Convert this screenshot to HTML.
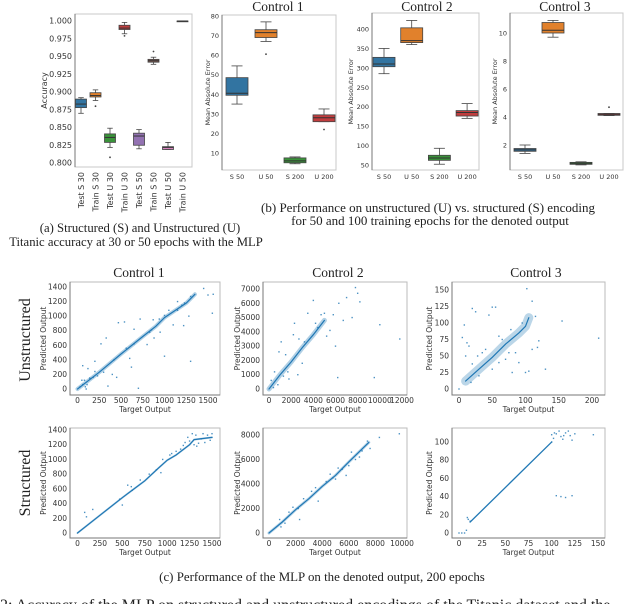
<!DOCTYPE html>
<html><head><meta charset="utf-8">
<style>
html,body{margin:0;padding:0;background:#fff;}
svg{display:block;}
.t{font-family:"DejaVu Sans","Liberation Sans",sans-serif;fill:#333;}
.s{font-family:"Liberation Serif",serif;fill:#222;}
</style></head>
<body>
<svg id="fig" width="640" height="604" viewBox="0 0 640 604" xmlns="http://www.w3.org/2000/svg">
<text class="s" x="140" y="232" font-size="12.7" text-anchor="middle">(a) Structured (S) and Unstructured (U)</text>
<text class="s" x="136" y="246" font-size="12.7" text-anchor="middle">Titanic accuracy at 30 or 50 epochs with the MLP</text>
<text class="s" x="428" y="212" font-size="13" text-anchor="middle">(b) Performance on unstructured (U) vs. structured (S) encoding</text>
<text class="s" x="430" y="225" font-size="13" text-anchor="middle">for 50 and 100 training epochs for the denoted output</text>
<text class="s" x="322" y="581" font-size="12.9" text-anchor="middle">(c) Performance of the MLP on the denoted output, 200 epochs</text>
<text class="s" x="0" y="610" font-size="16">2: Accuracy of the MLP on structured and unstructured encodings of the Titanic dataset and the</text>
<text class="s" x="139" y="277" font-size="13.5" text-anchor="middle">Control 1</text>
<text class="s" x="338" y="277" font-size="13.5" text-anchor="middle">Control 2</text>
<text class="s" x="536" y="277" font-size="13.5" text-anchor="middle">Control 3</text>
<text class="s" x="278" y="11" font-size="13.5" text-anchor="middle">Control 1</text>
<text class="s" x="427" y="11" font-size="13.5" text-anchor="middle">Control 2</text>
<text class="s" x="565" y="11" font-size="13.5" text-anchor="middle">Control 3</text>
<text class="s" x="0" y="0" font-size="16" text-anchor="middle" transform="translate(30,340) rotate(-90)">Unstructured</text>
<text class="s" x="0" y="0" font-size="16" text-anchor="middle" transform="translate(30,483) rotate(-90)">Structured</text>
</svg>
<script>
// ---- Panel (a) data ----
const aCats = ["Test S 30","Train S 30","Test U 30","Train U 30","Test S 50","Train S 50","Test U 50","Train U 50"];
const aQ1 = [0.878,0.893,0.829,0.988,0.825,0.942,0.819,1.0];
const aMed = [0.883,0.895,0.836,0.990,0.838,0.944,0.822,1.0];
const aQ3 = [0.890,0.899,0.841,0.994,0.842,0.946,0.823,1.0];
const aLo = [0.870,0.888,0.822,0.982,0.820,0.939,0.819,1.0];
const aHi = [0.892,0.903,0.849,0.998,0.847,0.949,0.829,1.0];
const aOut = [[],[0.880],[0.808],[0.979],[],[0.957],[],[]];
const aTicks = [0.800,0.825,0.850,0.875,0.900,0.925,0.950,0.975,1.000];
// ---- Panel (b) data ----
const bCats = ["S 50","U 50","S 200","U 200"];
const c1Q1 = [39.5,69,5,26]; const c1Med = [40.5,71.5,6,28]; const c1Q3 = [48.5,73,7.5,29.5];
const c1Lo = [35,67,4.5,26]; const c1Hi = [54.5,77,8,32.5]; const c1Out = [[],[60.5],[],[22]];
const c1Ticks = [10,20,30,40,50,60,70,80];
const c2Q1 = [303,365,62,176]; const c2Med = [310,370,68,185]; const c2Q3 = [327,403,75,190];
const c2Lo = [285,360,52,170]; const c2Hi = [350,422,93,208]; const c2Out = [[],[],[],[]];
const c2Ticks = [50,100,150,200,250,300,350,400];
const c3Q1 = [1.55,10.0,0.62,4.12]; const c3Med = [1.65,10.2,0.7,4.2]; const c3Q3 = [1.75,10.75,0.76,4.25];
const c3Lo = [1.4,9.7,0.58,4.1]; const c3Hi = [2.0,10.9,0.8,4.25]; const c3Out = [[],[],[],[4.7]];
const c3Ticks = [2,4,6,8,10];
const boxColors = ["#3274a1","#e1812c","#3a923a","#c03d3e","#9372b2","#845b53","#d684bd","#7f7f7f"];
// ---- Scatter data ----
const uc1TrendX=[0,250,500,750,900,1000,1250,1350];
const uc1TrendY=[0,230,480,720,860,980,1180,1300];
const uc1X=[1450,1500,1560,1550,1300,1280,1220,1230,1150,1100,1000,950,870,800,720,650,600,540,470,450,400,330,270,300,700,350,200,120,60,100,50,180,1050,1150,1300,1200,850,830,650,560,420,150,30,940,880,1000,620,80,110,140,90,60,200,230];
const uc1Y=[1380,1290,1300,1040,380,1000,870,1180,1200,880,1010,780,950,610,960,820,420,920,910,160,200,700,620,230,10,40,380,280,320,0,120,160,1080,1080,1270,1150,810,780,620,560,400,140,30,960,700,450,300,120,60,150,30,60,240,180];
const uc2TrendX=[0,1000,2000,3000,4000,5000];
const uc2TrendY=[0,1000,1900,2900,3800,4800];
const uc2X=[7800,8000,8200,7000,6300,5800,5000,4700,4000,3500,2200,2300,1500,1100,900,6000,6200,9500,10000,11800,4200,6700,2600,3000,500,1800,3200,4400,5500,2700,800,1300,200,400,5200,1700,7500];
const uc2Y=[7100,6700,6100,6400,6000,5200,5300,5200,6200,5300,3800,4600,2400,3300,2600,3000,800,800,4500,3500,4600,4800,1000,1800,1200,700,3300,4300,4100,3500,300,900,600,100,3700,1200,5000];
const uc3TrendX=[10,30,50,70,90,100,105];
const uc3TrendY=[12,30,48,68,85,95,108];
const uc3X=[102,110,155,210,20,8,25,50,55,45,100,105,130,118,90,80,10,15,5,0,60,40,30,70,95,115,85,50,20,35,65,75,110,120,12,28,18,60,78];
const uc3Y=[152,133,103,77,122,97,117,124,124,112,25,27,30,63,40,25,50,65,78,0,80,60,20,45,100,110,55,30,38,55,75,55,60,73,70,50,10,40,90];
const sc1TrendX=[0,250,500,750,900,1000,1100,1250,1300,1500];
const sc1TrendY=[0,240,480,710,880,990,1060,1200,1270,1300];
const sc1X=[80,100,170,560,600,610,500,470,880,950,1050,1150,1280,1320,1380,1450,1480,1200,1250,1330,1420,1100,700,930,1230,1300,1500,1400,800,1030,1180,1350];
const sc1Y=[280,220,320,650,630,580,380,460,860,1000,1080,1140,1350,1330,1280,1330,1260,1230,1250,1180,1230,1110,720,820,1300,1200,1350,1350,800,1060,1190,1220];
const sc2TrendX=[0,1000,2000,3000,4000,5000,6000,7500];
const sc2TrendY=[0,900,1900,2800,3800,4700,5800,7400];
const sc2X=[9800,8300,7400,7600,6800,6000,5500,5800,5200,4600,4300,3700,2300,2600,1800,1200,800,900,3200,4800,6500,6200,5000,3500,1500,2200,7000];
const sc2Y=[8100,7800,7500,6900,6200,5500,5200,4700,5300,4800,4200,2600,1100,2800,2100,800,1100,500,3400,4500,6000,6600,4400,3700,1700,2000,6700];
const sc3TrendX=[12,100];
const sc3TrendY=[12,100];
const sc3X=[100,105,110,115,120,125,118,108,145,102,112,122,105,110,115,122,0,3,6,8,10,12,9,100,103,113];
const sc3Y=[108,109,106,110,107,109,112,112,108,104,103,102,41,40,39,41,0,0,0,3,15,13,17,100,110,107];

const svg=document.getElementById('fig');
const NS='http://www.w3.org/2000/svg';
function mk(tag,attrs,parent){const e=document.createElementNS(NS,tag);for(const k in attrs)e.setAttribute(k,attrs[k]);(parent||svg).appendChild(e);return e;}
function lin(d0,d1,r0,r1){return v=>r0+(v-d0)*(r1-r0)/(d1-d0);}

function boxPanel(name,fr,yS,cats,xs,w,q1,med,q3,lo,hi,outs,ticks,fmt,ylabel,ylx,rotLabels,labY,fs){
  const g=mk('g',{});
  
  
  const frame=mk('rect',{x:fr[0],y:fr[1],width:fr[2]-fr[0],height:fr[3]-fr[1],fill:'none',stroke:'#c8c8c8','stroke-width':1},g);
  
  
  mk('line',{x1:fr[0],y1:fr[1],x2:fr[0],y2:fr[3],stroke:'#777','stroke-width':1},g);
  ticks.forEach(t=>{
    const tx=mk('text',{x:fr[0]-3,y:yS(t)+2.5,'font-size':fs,'text-anchor':'end',class:'t'},g);
    tx.textContent=fmt(t);
    
    
  });
  const yl=mk('text',{x:0,y:0,'font-size':fs,'text-anchor':'middle',class:'t',transform:`translate(${ylx},${(fr[1]+fr[3])/2}) rotate(-90)`},g);
  yl.textContent=ylabel;
  
  
  cats.forEach((c,i)=>{
    const x=xs(i),col=boxColors[i];
    const wg=mk('g',{},g);
    
    
    mk('line',{x1:x,x2:x,y1:yS(hi[i]),y2:yS(q3[i]),stroke:'#444','stroke-width':0.8},wg);
    mk('line',{x1:x,x2:x,y1:yS(q1[i]),y2:yS(lo[i]),stroke:'#444','stroke-width':0.8},wg);
    mk('line',{x1:x-w/4,x2:x+w/4,y1:yS(hi[i]),y2:yS(hi[i]),stroke:'#444','stroke-width':0.8},wg);
    mk('line',{x1:x-w/4,x2:x+w/4,y1:yS(lo[i]),y2:yS(lo[i]),stroke:'#444','stroke-width':0.8},wg);
    const h=Math.max(yS(q1[i])-yS(q3[i]),0.8);
    mk('rect',{x:x-w/2,y:yS(q3[i]),width:w,height:h,fill:col,stroke:'#444','stroke-width':0.8},wg);
    mk('line',{x1:x-w/2,x2:x+w/2,y1:yS(med[i]),y2:yS(med[i]),stroke:'#333','stroke-width':1},wg);
    outs[i].forEach(o=>mk('circle',{cx:x,cy:yS(o),r:0.9,fill:'#444'},wg));
    let lab;
    if(rotLabels){lab=mk('text',{x:0,y:0,'font-size':fs,'text-anchor':'end',class:'t',transform:`translate(${x+3},${labY}) rotate(-90)`},g);}
    else{lab=mk('text',{x:x,y:labY,'font-size':fs,'text-anchor':'middle',class:'t'},g);}
    lab.textContent=c;
    
    
  });
}
boxPanel('accuracy-boxplot',[75,14,192,167],lin(0.8,1.0,163,21),aCats,i=>81+i*14.5,11,aQ1,aMed,aQ3,aLo,aHi,aOut,aTicks,t=>t.toFixed(3),'Accuracy',47,true,172,8);
boxPanel('control-1-boxplot',[222,15,336,170],lin(10,80,153,16),bCats,i=>237+i*29,22,c1Q1,c1Med,c1Q3,c1Lo,c1Hi,c1Out,c1Ticks,t=>String(t),'Mean Absolute Error',210,false,179,6.5);
boxPanel('control-2-boxplot',[372,13,479,170],lin(50,400,165,29),bCats,i=>384+i*27.7,22,c2Q1,c2Med,c2Q3,c2Lo,c2Hi,c2Out,c2Ticks,t=>String(t),'Mean Absolute Error',353,false,179,6.5);
boxPanel('control-3-boxplot',[510,13,623,170],lin(2,10,145,33),bCats,i=>525+i*28,22,c3Q1,c3Med,c3Q3,c3Lo,c3Hi,c3Out,c3Ticks,t=>String(t),'Mean Absolute Error',497,false,179,6.5);

function scatter(name,fr,xS,yS,xt,yt,tx,ty,band,bop,px,py,ylx,labY){
  const g=mk('g',{});
  
  
  const frame=mk('rect',{x:fr[0],y:fr[1],width:fr[2]-fr[0],height:fr[3]-fr[1],fill:'none',stroke:'#bbb','stroke-width':1},g);
  
  
  mk('path',{d:`M${fr[0]} ${fr[1]}V${fr[3]}H${fr[2]}`,fill:'none',stroke:'#777','stroke-width':1},g);
  xt.forEach(t=>{
    const e=mk('text',{x:xS(t),y:labY,'font-size':7.5,'text-anchor':'middle',class:'t'},g);
    e.textContent=String(t);
    
    
  });
  yt.forEach(t=>{
    const e=mk('text',{x:fr[0]-3,y:yS(t)+2.5,'font-size':7.5,'text-anchor':'end',class:'t'},g);
    e.textContent=String(t);
    
    
  });
  const xl=mk('text',{x:(fr[0]+fr[2])/2,y:labY+9,'font-size':7.5,'text-anchor':'middle',class:'t'},g);
  xl.textContent='Target Output';
  
  
  const yl=mk('text',{x:0,y:0,'font-size':7.5,'text-anchor':'middle',class:'t',transform:`translate(${ylx},${(fr[1]+fr[3])/2}) rotate(-90)`},g);
  yl.textContent='Predicted Output';
  
  
  const d=tx.map((v,i)=>(i?'L':'M')+xS(v).toFixed(1)+' '+yS(ty[i]).toFixed(1)).join('');
  const b=mk('path',{d:d,fill:'none',stroke:'#1f77b4','stroke-width':band,'stroke-opacity':bop,'stroke-linecap':'round','stroke-linejoin':'round'},g);
  
  
  mk('path',{d:d,fill:'none',stroke:'#1f77b4','stroke-width':1.2,'stroke-linecap':'round'},g);
  px.forEach((v,i)=>{
    const p=mk('rect',{x:xS(v)-0.7,y:yS(py[i])-0.7,width:1.4,height:1.4,fill:'#1f77b4','fill-opacity':0.8},g);
    
    
  });
}
scatter('unstructured-control-1-scatter',[70,282,220,395],lin(0,1500,77.5,208),lin(0,1400,389,287),[0,250,500,750,1000,1250,1500],[0,200,400,600,800,1000,1200,1400],uc1TrendX,uc1TrendY,4,0.35,uc1X,uc1Y,46,403);
scatter('unstructured-control-2-scatter',[263,282,407,395],lin(0,12000,269,402),lin(0,7000,389,289),[0,2000,4000,6000,8000,10000,12000],[0,1000,2000,3000,4000,5000,6000,7000],uc2TrendX,uc2TrendY,5,0.35,uc2X,uc2Y,240,403);
scatter('unstructured-control-3-scatter',[452,282,605,395],lin(0,200,459,592),lin(0,150,389,290),[0,50,100,150,200],[0,25,50,75,100,125,150],uc3TrendX,uc3TrendY,9,0.3,uc3X,uc3Y,432,403);
scatter('structured-control-1-scatter',[70,428,220,538],lin(0,1500,77.5,212),lin(0,1400,533,430),[0,250,500,750,1000,1250,1500],[0,200,400,600,800,1000,1200,1400],sc1TrendX,sc1TrendY,2,0.3,sc1X,sc1Y,46,546);
scatter('structured-control-2-scatter',[263,428,407,538],lin(0,10000,269,402),lin(0,8000,533,435),[0,2000,4000,6000,8000,10000],[0,2000,4000,6000,8000],sc2TrendX,sc2TrendY,3,0.3,sc2X,sc2Y,240,546);
scatter('structured-control-3-scatter',[452,428,605,538],lin(0,150,459,598),lin(0,100,533,442),[0,25,50,75,100,125,150],[0,20,40,60,80,100],sc3TrendX,sc3TrendY,1.5,0.3,sc3X,sc3Y,432,546);
</script>
</body></html>
